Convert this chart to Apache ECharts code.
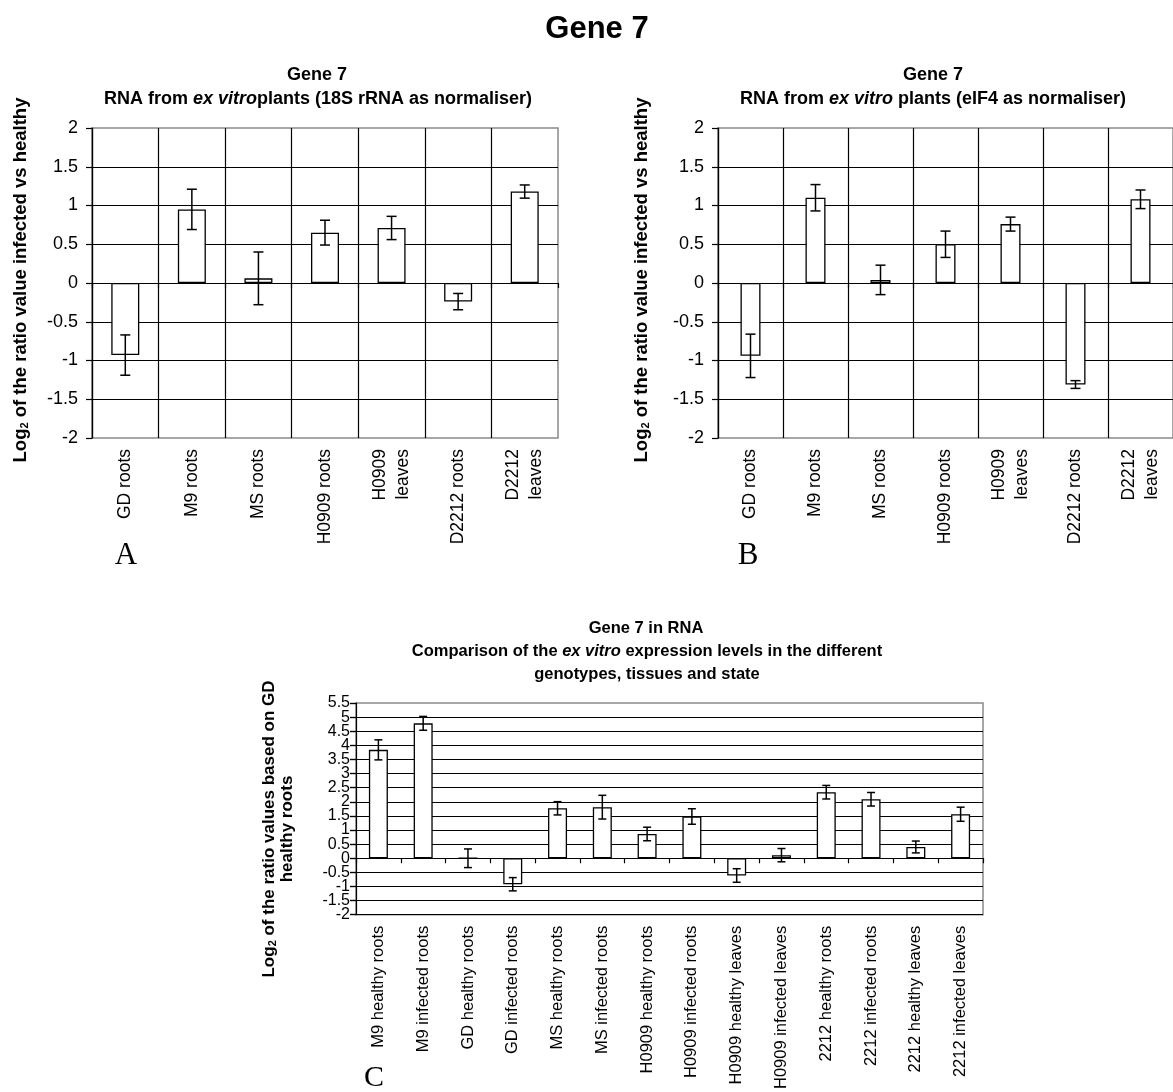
<!DOCTYPE html>
<html>
<head>
<meta charset="utf-8">
<script src="https://cdn.jsdelivr.net/npm/echarts@6/dist/echarts.min.js"></script>
<style>
  html, body { margin: 0; padding: 0; background: #fff; }
  #chart { width: 1173px; height: 1092px; }
</style>
</head>
<body>
<div id="chart"></div>
<script>
// Tissues compared in panels A and B
const tissuesAB = ['GD roots', 'M9 roots', 'MS roots', 'H0909 roots', 'H0909\nleaves', 'D2212 roots', 'D2212\nleaves'];

// Panel A: log2 infected/healthy ratio, 18S rRNA normaliser
const ratio18S = [-0.93, 0.95, 0.06, 0.65, 0.71, -0.24, 1.18];
const err18S   = [0.26, 0.26, 0.34, 0.16, 0.15, 0.105, 0.085];

// Panel B: log2 infected/healthy ratio, eIF4 normaliser
const ratioEIF4 = [-0.94, 1.10, 0.04, 0.50, 0.76, -1.31, 1.08];
const errEIF4   = [0.28, 0.17, 0.19, 0.17, 0.09, 0.05, 0.12];

// Panel C: log2 expression relative to GD healthy roots
const samplesC = ['M9 healthy roots', 'M9 infected roots', 'GD healthy roots', 'GD infected roots',
  'MS healthy roots', 'MS infected roots', 'H0909 healthy roots', 'H0909 infected roots',
  'H0909 healthy leaves', 'H0909 infected leaves', '2212 healthy roots', '2212 infected roots',
  '2212 healthy leaves', '2212 infected leaves'];
const levelC = [3.84, 4.78, 0, -0.92, 1.77, 1.81, 0.86, 1.48, -0.61, 0.11, 2.34, 2.09, 0.40, 1.56];
const errC   = [0.355, 0.245, 0.33, 0.235, 0.235, 0.42, 0.24, 0.275, 0.24, 0.235, 0.24, 0.24, 0.21, 0.25];

// Value-axis ranges [min, max, step]
const yRangeAB = [-2, 2, 0.5];
const yRangeC  = [-2, 5.5, 0.5];

const SANS = '"Liberation Sans", Arial, sans-serif';
const SERIF = '"Liberation Serif", "Times New Roman", serif';

const chart = echarts.init(document.getElementById('chart'), null, { renderer: 'canvas' });

function grid(left, top, width, height) {
  return { left, top, width, height, show: true, borderColor: '#8a8a8a', borderWidth: 1.5, backgroundColor: 'transparent', containLabel: false };
}

// category axis carrying the rotated labels (and vertical grid lines when wanted)
function labelAxis(gridIndex, cats, fontSize, margin, vGrid) {
  return {
    type: 'category', gridIndex, data: cats, position: 'bottom',
    axisLine: { show: false, onZero: false },
    axisTick: { show: false },
    axisLabel: { interval: 0, rotate: 90, margin, fontSize, fontFamily: SANS, color: '#000', lineHeight: fontSize * 1.3 },
    splitLine: { show: vGrid, interval: 0, showMinLine: true, showMaxLine: false, lineStyle: { color: '#000', width: 1.2 } }
  };
}

// category axis drawn as the zero line with ticks at category boundaries
function zeroAxis(gridIndex, cats) {
  return {
    type: 'category', gridIndex, data: cats, position: 'bottom',
    axisLine: { show: true, onZero: true, lineStyle: { color: '#000', width: 1.2 } },
    axisTick: { show: true, interval: 0, length: 5, lineStyle: { color: '#000', width: 1.2 } },
    axisLabel: { show: false },
    splitLine: { show: false }
  };
}

function valueAxis(gridIndex, range, fontSize, margin, showMin, extraLabel) {
  return {
    type: 'value', gridIndex, min: range[0], max: range[1], interval: range[2],
    axisLine: { show: true, lineStyle: { color: '#000', width: 1.2 } },
    axisTick: { show: true, length: 6, lineStyle: { color: '#000', width: 1.2 } },
    axisLabel: Object.assign({ fontSize, margin, fontFamily: SANS, color: '#000', showMinLabel: true, showMaxLabel: true }, extraLabel || {}),
    splitLine: { show: true, showMinLine: showMin, showMaxLine: false, lineStyle: { color: '#000', width: 1.2 } }
  };
}

// Panel C packs its labels tightly: whole numbers go on the main axis,
// half steps on a companion axis, so every tick keeps its label.
const wholeStep = (v) => Number.isInteger(v) ? String(v) : '';
const halfStep = (v) => Number.isInteger(v) ? '' : String(v);

function bars(axisIndex, values, barWidth) {
  return {
    type: 'bar', xAxisIndex: axisIndex, yAxisIndex: axisIndex / 2,
    data: values, barWidth,
    itemStyle: { color: '#fff', borderColor: '#000', borderWidth: 1.3 },
    emphasis: { disabled: true }, z: 2
  };
}

function errorBars(axisIndex, values, errs, cap) {
  return {
    type: 'custom', xAxisIndex: axisIndex, yAxisIndex: axisIndex / 2,
    data: values.map((v, i) => [i, v - errs[i], v + errs[i]]),
    encode: { x: 0, y: [1, 2] },
    z: 3, silent: true,
    renderItem(params, api) {
      const lo = api.coord([api.value(0), api.value(1)]);
      const hi = api.coord([api.value(0), api.value(2)]);
      const st = { stroke: '#000', lineWidth: 1.5 };
      return {
        type: 'group',
        children: [
          { type: 'line', shape: { x1: lo[0], y1: lo[1], x2: hi[0], y2: hi[1] }, style: st },
          { type: 'line', shape: { x1: lo[0] - cap, y1: lo[1], x2: lo[0] + cap, y2: lo[1] }, style: st },
          { type: 'line', shape: { x1: hi[0] - cap, y1: hi[1], x2: hi[0] + cap, y2: hi[1] }, style: st }
        ]
      };
    }
  };
}

function text(x, y, str, opts) {
  return {
    type: 'text', x, y, rotation: opts.rotation || 0, silent: true,
    style: Object.assign({
      text: str, align: 'center', verticalAlign: 'middle',
      fontFamily: SANS, fontSize: 18, fontWeight: 'bold', fill: '#000'
    }, opts.style || {})
  };
}

const richTitle = (size) => ({ i: { fontStyle: 'italic', fontWeight: 'bold', fontSize: size, fontFamily: SANS } });
const richLog = (size) => ({ s: { fontSize: Math.round(size * 0.62), fontWeight: 'bold', fontFamily: SANS, padding: [Math.round(size * 0.45), 0, 0, 0] } });

const yAxisCHalf = {
  type: 'value', gridIndex: 2, position: 'left', offset: 0,
  min: yRangeC[0], max: yRangeC[1], interval: yRangeC[2],
  axisLine: { show: false }, axisTick: { show: true, length: 6, lineStyle: { color: '#000', width: 1.2 } },
  axisLabel: { fontSize: 16, margin: 6, fontFamily: SANS, color: '#000', formatter: halfStep, showMaxLabel: true },
  splitLine: { show: false }
};

const option = {
  animation: false,
  backgroundColor: '#fff',
  grid: [
    grid(92, 128, 466, 310),
    grid(718, 128, 466, 310),
    grid(356, 703, 627, 212)
  ],
  xAxis: [
    labelAxis(0, tissuesAB, 17.5, 11, true), zeroAxis(0, tissuesAB),
    labelAxis(1, tissuesAB, 17.5, 11, true), zeroAxis(1, tissuesAB),
    labelAxis(2, samplesC, 16.5, 11, false), zeroAxis(2, samplesC)
  ],
  yAxis: [
    valueAxis(0, yRangeAB, 18, 14, false),
    valueAxis(1, yRangeAB, 18, 14, false),
    valueAxis(2, yRangeC, 16, 6, true, { formatter: wholeStep, showMinLabel: true, showMaxLabel: null }),
    yAxisCHalf
  ],
  series: [
    bars(0, ratio18S, 28), errorBars(0, ratio18S, err18S, 5),
    bars(2, ratioEIF4, 20), errorBars(2, ratioEIF4, errEIF4, 5),
    bars(4, levelC, 19), errorBars(4, levelC, errC, 4)
  ],
  graphic: [
    // figure heading
    text(597, 29, 'Gene 7', { style: { fontSize: 31 } }),

    // panel A titles
    text(317, 75, 'Gene 7', { style: { fontSize: 18 } }),
    text(318, 99, 'RNA from {i|ex vitro}plants (18S rRNA as normaliser)', { style: { fontSize: 18, rich: richTitle(18) } }),
    text(21, 280, 'Log{s|2} of the ratio value infected vs healthy', { rotation: Math.PI / 2, style: { fontSize: 18.5, rich: richLog(18.5) } }),
    text(126, 556, 'A', { style: { fontFamily: SERIF, fontWeight: 'normal', fontSize: 31 } }),

    // panel B titles
    text(933, 75, 'Gene 7', { style: { fontSize: 18 } }),
    text(933, 99, 'RNA from {i|ex vitro} plants (eIF4 as normaliser)', { style: { fontSize: 18, rich: richTitle(18) } }),
    text(642, 280, 'Log{s|2} of the ratio value infected vs healthy', { rotation: Math.PI / 2, style: { fontSize: 18.5, rich: richLog(18.5) } }),
    text(748, 556, 'B', { style: { fontFamily: SERIF, fontWeight: 'normal', fontSize: 31 } }),

    // panel C titles
    text(646, 628, 'Gene 7 in RNA', { style: { fontSize: 16.5 } }),
    text(647, 651, 'Comparison of the {i|ex vitro} expression levels in the different', { style: { fontSize: 16.5, rich: richTitle(16.5) } }),
    text(647, 674, 'genotypes, tissues and state', { style: { fontSize: 16.5 } }),
    text(269, 829, 'Log{s|2} of the ratio values based on GD', { rotation: Math.PI / 2, style: { fontSize: 17, rich: richLog(17) } }),
    text(287, 829, 'healthy roots', { rotation: Math.PI / 2, style: { fontSize: 17 } }),
    text(374, 1078, 'C', { style: { fontFamily: SERIF, fontWeight: 'normal', fontSize: 30 } })
  ]
};

chart.setOption(option);
</script>
</body>
</html>
